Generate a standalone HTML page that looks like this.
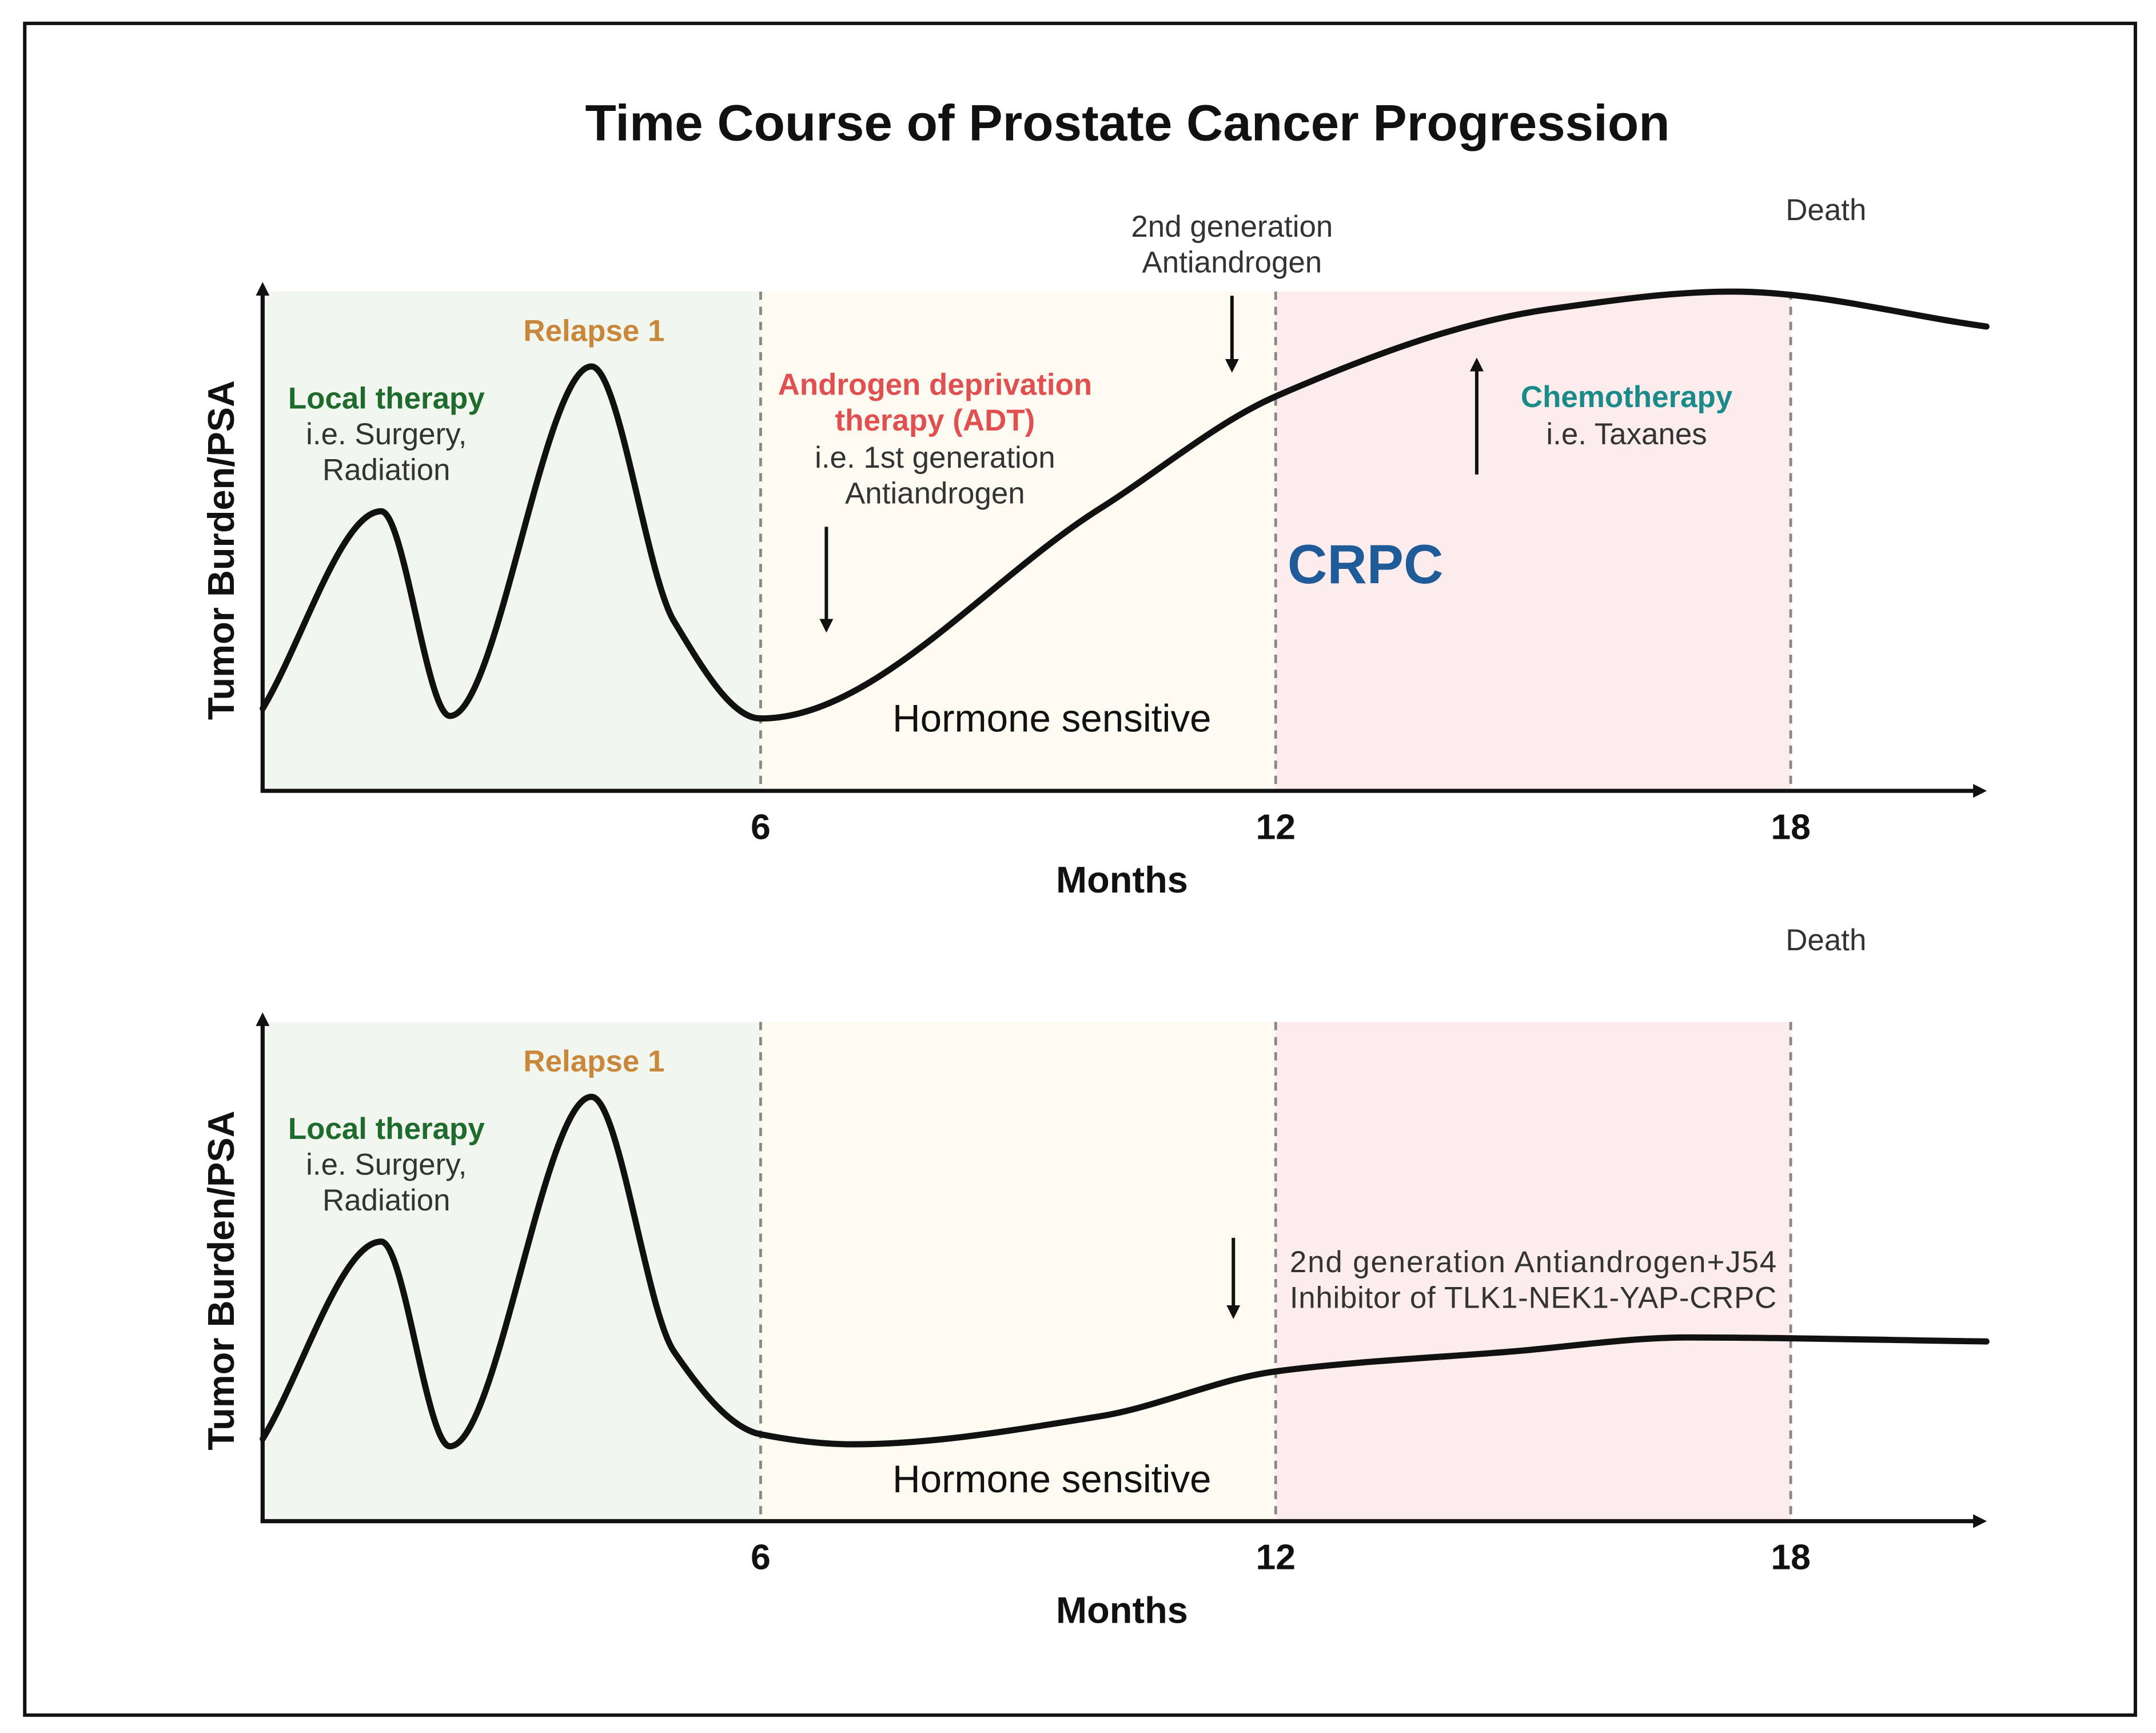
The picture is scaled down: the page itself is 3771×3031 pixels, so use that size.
<!DOCTYPE html>
<html><head><meta charset="utf-8"><style>
html,body{margin:0;padding:0;background:#fff}
svg{display:block}
text{font-family:"Liberation Sans",sans-serif}
</style></head><body>
<svg id="chart" width="3771" height="3031" viewBox="0 0 1568 1260" preserveAspectRatio="none" xmlns="http://www.w3.org/2000/svg">
<defs>
<marker id="ah" markerWidth="10" markerHeight="10" refX="5" refY="5" orient="auto" markerUnits="userSpaceOnUse"><path d="M0,0 L10,5 L0,10 z" fill="#111"/></marker>
</defs>
<rect x="18" y="17" width="1535" height="1230" fill="#fff" stroke="#111" stroke-width="2.5"/>
<text x="820" y="102" text-anchor="middle" font-size="37" font-weight="bold" fill="#111">Time Course of Prostate Cancer Progression</text>
<g id="p1"></g>
<g id="p2"></g>
</svg>
<script>
// Data (months vs relative tumor burden 0-100)
const tickMonths = [6, 12, 18];
const tickLabels = ["6", "12", "18"];
const phaseBounds = [0.2, 6, 12, 18];
const curve1Months = [0.2, 1.58, 2.38, 4.03, 4.99, 6.0, 9.95, 12, 15.2, 17.32, 20.28];
const curve1Values = [16.5, 56, 15, 85, 34, 14.5, 56.5, 79, 96.5, 100, 93];
const curve2Months = [0.2, 1.58, 2.38, 4.03, 4.99, 6, 7.07, 9.95, 12, 14.76, 16.8, 20.28];
const curve2Values = [16.5, 56, 15, 85, 34, 17.4, 15.4, 21, 30, 34, 36.8, 36];

const NS = "http://www.w3.org/2000/svg";
const xS = m => 178.6 + 62.43 * m;
function mk(parent, tag, attrs, txt) {
  const e = document.createElementNS(NS, tag);
  for (const k in attrs) e.setAttribute(k, attrs[k]);
  if (txt !== undefined) e.textContent = txt;
  parent.appendChild(e);
  return e;
}
// monotone cubic (Fritsch-Carlson)
function monotone(pts) {
  const n = pts.length, d = [], m = [];
  for (let i = 0; i < n - 1; i++) d.push((pts[i + 1][1] - pts[i][1]) / (pts[i + 1][0] - pts[i][0]));
  m[0] = d[0]; m[n - 1] = d[n - 2];
  for (let i = 1; i < n - 1; i++) {
    if (d[i - 1] * d[i] <= 0) m[i] = 0;
    else {
      const h0 = pts[i][0] - pts[i - 1][0], h1 = pts[i + 1][0] - pts[i][0];
      const w1 = 2 * h1 + h0, w2 = h1 + 2 * h0;
      m[i] = (w1 + w2) / (w1 / d[i - 1] + w2 / d[i]);
    }
  }
  let s = "M" + pts[0][0] + "," + pts[0][1];
  for (let i = 0; i < n - 1; i++) {
    const h = (pts[i + 1][0] - pts[i][0]) / 3;
    s += " C" + (pts[i][0] + h) + "," + (pts[i][1] + m[i] * h) + " " + (pts[i + 1][0] - h) + "," + (pts[i + 1][1] - m[i + 1] * h) + " " + pts[i + 1][0] + "," + pts[i + 1][1];
  }
  return s;
}
function panel(g, off, months, values) {
  const base = 575 + off, top = 212 + off;
  const yS = v => base - v * 3.63;
  const bgs = ["#f1f6ee", "#fdfbf1", "#fdecec"];
  const bgNames = ["local-therapy-phase-bg", "hormone-sensitive-phase-bg", "crpc-phase-bg"];
  for (let i = 0; i < 3; i++) {
    const r = mk(g, "rect", {x: xS(phaseBounds[i]), y: top, width: xS(phaseBounds[i + 1]) - xS(phaseBounds[i]), height: base - top, fill: bgs[i]});
    
    
  }
  tickMonths.forEach((m, i) => {
    const l = mk(g, "line", {x1: xS(m), x2: xS(m), y1: top, y2: base, stroke: "#888", "stroke-width": 2, "stroke-dasharray": "6,5"});
    
    
    const t = mk(g, "text", {x: xS(m), y: base + 35, "text-anchor": "middle", "font-size": 26, "font-weight": "bold", fill: "#111"}, tickLabels[i]);
    
    
  });
  const ya = mk(g, "line", {x1: 191, y1: base, x2: 191, y2: top - 2, stroke: "#111", "stroke-width": 3, "marker-end": "url(#ah)"});
  
  
  const xa = mk(g, "line", {x1: 189.5, y1: base, x2: 1440, y2: base, stroke: "#111", "stroke-width": 3, "marker-end": "url(#ah)"});
  
  
  const xt = mk(g, "text", {x: 816, y: base + 74, "text-anchor": "middle", "font-size": 27, "font-weight": "bold", fill: "#111"}, "Months");
  
  
  const yt = mk(g, "text", {x: 0, y: 0, transform: "translate(170," + (400 + off) + ") rotate(-90)", "text-anchor": "middle", "font-size": 27, "font-weight": "bold", fill: "#111"}, "Tumor Burden/PSA");
  
  
  const pts = months.map((m, i) => [+xS(m).toFixed(2), +yS(values[i]).toFixed(2)]);
  const p = mk(g, "path", {d: monotone(pts), fill: "none", stroke: "#111", "stroke-width": 4.5, "stroke-linecap": "round"});
  
  
}
function label(g, x, y, txt, opts, name) {
  const t = mk(g, "text", Object.assign({x: x, y: y, "text-anchor": "middle", "font-size": 22, fill: "#333"}, opts || {}), txt);
  
  
  return t;
}
function arrow(g, x, y1, y2, name) {
  const a = mk(g, "line", {x1: x, y1: y1, x2: x, y2: y2, stroke: "#111", "stroke-width": 2.5, "marker-end": "url(#ah)"});
  
  
}
const g1 = document.getElementById("p1"), g2 = document.getElementById("p2");
panel(g1, 0, curve1Months, curve1Values);
panel(g2, 531, curve2Months, curve2Values);
[[g1, 0], [g2, 531]].forEach(([g, o]) => {
  label(g, 281, 297 + o, "Local therapy", {fill: "#1f6b2d", "font-weight": "bold"}, "local-therapy-label");
  label(g, 281, 323 + o, "i.e. Surgery,", {}, "surgery-label");
  label(g, 281, 349 + o, "Radiation", {}, "radiation-label");
  label(g, 432, 248 + o, "Relapse 1", {fill: "#c8873a", "font-weight": "bold"}, "relapse-label");
  label(g, 1328, 160 + o, "Death", {}, "death-label");
});
label(g1, 765, 532, "Hormone sensitive", {"font-size": 28, fill: "#111"}, "hormone-sensitive-label");
label(g2, 765, 1085, "Hormone sensitive", {"font-size": 28, fill: "#111"}, "hormone-sensitive-label");
label(g1, 680, 287, "Androgen deprivation", {fill: "#e05050", "font-weight": "bold"}, "adt-label");
label(g1, 680, 313, "therapy (ADT)", {fill: "#e05050", "font-weight": "bold"}, "adt-label-line2");
label(g1, 680, 340, "i.e. 1st generation", {}, "first-gen-label");
label(g1, 680, 366, "Antiandrogen", {}, "antiandrogen-label");
arrow(g1, 601, 383, 455, "adt-arrow");
label(g1, 896, 172, "2nd generation", {}, "second-gen-label");
label(g1, 896, 198, "Antiandrogen", {}, "second-gen-label-line2");
arrow(g1, 896, 215, 266, "second-gen-arrow");
label(g1, 1183, 296, "Chemotherapy", {fill: "#1a8a8a", "font-weight": "bold"}, "chemotherapy-label");
label(g1, 1183, 323, "i.e. Taxanes", {}, "taxanes-label");
arrow(g1, 1074, 345, 265, "chemotherapy-arrow");
label(g1, 993, 424, "CRPC", {fill: "#1f5a99", "font-weight": "bold", "font-size": 40}, "crpc-label");
arrow(g2, 897, 900, 954, "j54-arrow");
label(g2, 938, 925, "2nd generation Antiandrogen+J54", {"text-anchor": "start", textLength: 354}, "j54-label");
label(g2, 938, 951, "Inhibitor of TLK1-NEK1-YAP-CRPC", {"text-anchor": "start", textLength: 354}, "j54-label-line2");
</script>
</body></html>
